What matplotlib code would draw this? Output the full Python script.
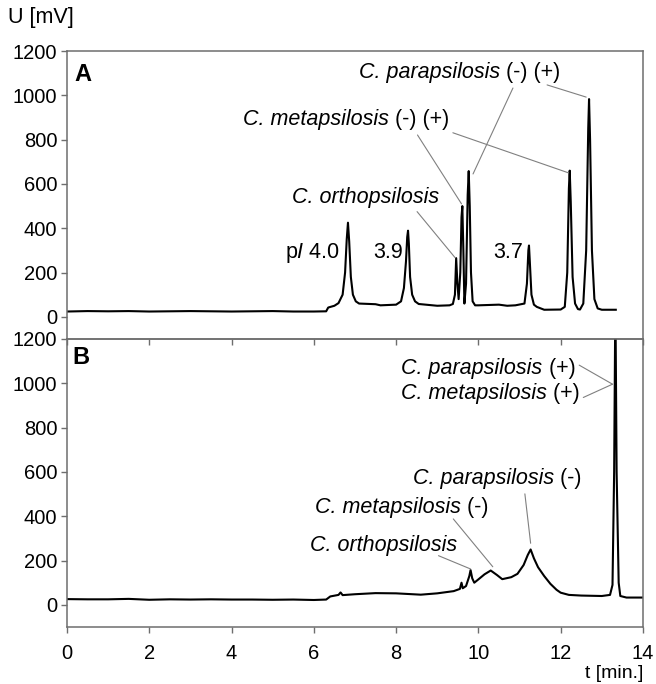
import matplotlib
matplotlib.use('Agg')
import matplotlib.pyplot as plt


# DATA

# panel A: isoelectric focusing trace
t_a = [0.0, 0.5, 1.0, 1.5, 2.0, 2.5, 3.0, 3.5, 4.0, 4.5, 5.0, 5.5, 6.0, 6.3,
       6.35, 6.5, 6.6, 6.70, 6.76, 6.80, 6.83, 6.86, 6.90, 6.95, 7.02, 7.1,
       7.5, 7.62, 8.0, 8.12, 8.19, 8.24, 8.27, 8.29, 8.31, 8.34, 8.39, 8.46,
       8.55, 9.0, 9.3, 9.38, 9.43, 9.46, 9.49, 9.52, 9.56, 9.59, 9.61, 9.635,
       9.66, 9.70, 9.74, 9.765, 9.79, 9.82, 9.86, 9.92, 10.0, 10.5, 10.7, 10.9,
       11.12, 11.18, 11.215, 11.23, 11.25, 11.29, 11.35, 11.42, 11.6, 12.0,
       12.1, 12.16, 12.20, 12.22, 12.245, 12.29, 12.35, 12.42, 12.47, 12.55,
       12.62, 12.67, 12.69, 12.715, 12.76, 12.82, 12.9, 13.0, 13.34]
u_a = [24, 26, 25, 26, 24, 25, 26, 25, 24, 25, 26, 24, 24, 25,
       42, 50, 62, 100, 200, 350, 425, 340, 180, 100, 70, 60,
       57, 52, 55, 70, 130, 250, 360, 389, 330, 180, 100, 70,
       58, 50, 52, 58, 100, 265, 150, 80, 200, 450, 500, 300,
       60, 150, 550, 658, 500, 200, 70, 52, 52, 55, 50, 52,
       60, 150, 300, 322, 250, 100, 55, 45, 32, 33,
       45, 200, 580, 660, 520, 180, 60, 35, 33, 60,
       300, 850, 983, 800, 300, 80, 38, 32, 32]

# panel B: second run
t_b = [0.0, 0.5, 1.0, 1.5, 2.0, 2.5, 3.0, 3.5, 4.0, 4.5, 5.0, 5.5, 6.0, 6.3,
       6.4, 6.6, 6.65, 6.7, 7.0, 7.5, 8.0, 8.6, 9.0, 9.4, 9.55, 9.59, 9.62,
       9.7, 9.78, 9.81, 9.85, 9.9, 10.0, 10.15, 10.3, 10.45, 10.58, 10.8,
       10.95, 11.1, 11.2, 11.27, 11.35, 11.45, 11.6, 11.75, 11.9, 12.0, 12.2,
       12.5, 13.0, 13.2, 13.26, 13.3, 13.33, 13.36, 13.41, 13.45, 13.6, 14.0]
u_b = [26, 25, 25, 27, 23, 25, 24, 25, 24, 24, 23, 24, 22, 24,
       38, 45, 56, 44, 48, 53, 52, 46, 52, 62, 72, 100, 75,
       85, 130, 157, 120, 100, 115, 138, 155, 135, 116, 125,
       140, 180, 225, 250, 210, 170, 130, 95, 68, 55, 45,
       42, 40, 45, 90, 600, 1400, 600, 100, 40, 33, 33]

y_ticks = [0, 200, 400, 600, 800, 1000, 1200]
x_ticks = [0, 2, 4, 6, 8, 10, 12, 14]


### = = = = = = = = = = = = = = = = = = = = = = = = = = = = = = = = = = = = = =


# STYLE

plt.rcParams['font.family'] = 'Liberation Sans'
plt.rcParams['mathtext.fontset'] = 'custom'
plt.rcParams['mathtext.rm'] = 'Liberation Sans'
plt.rcParams['mathtext.it'] = 'Liberation Sans:italic'
plt.rcParams['font.size'] = 15.5
plt.rcParams['xtick.labelsize'] = 14.5
plt.rcParams['ytick.labelsize'] = 14.5

frame = '#6e6e6e'
lead = '#808080'

fig = plt.figure(figsize=(6.56, 6.84), dpi=100)
ax1 = fig.add_axes([0.1021, 0.5044, 0.8780, 0.4210])
ax2 = fig.add_axes([0.1021, 0.0833, 0.8780, 0.4211])
ax2.set_facecolor('none')

for a in (ax1, ax2):
    a.set_xlim(0, 14)
    a.set_ylim(-100, 1200)
    a.set_yticks(y_ticks)
    a.set_xticks(x_ticks)
    for s in a.spines.values():
        s.set_color(frame)
        s.set_linewidth(1.1)
    a.tick_params(direction='out', length=4, width=1, color=frame, pad=3)

ax1.tick_params(axis='x', labelbottom=False)
ax2.tick_params(axis='x', pad=8)

ax1.plot(t_a, u_a, color='black', lw=1.5, solid_joinstyle='round')
ax2.plot(t_b, u_b, color='black', lw=1.5, solid_joinstyle='round')


def lead_line(a, x0, y0, x1, y1):
    a.annotate('', xy=(x1, y1), xytext=(x0, y0),
               arrowprops=dict(arrowstyle='-', color=lead, lw=0.8, shrinkA=0, shrinkB=0))


def label(a, x, y, name, extra=''):
    # italic species name followed by plain charge tags
    t = a.text(x, y, 'C. ' + name, style='italic', ha='left', va='center')
    if extra:
        a.annotate(extra, xy=(1, 0), xycoords=t, ha='left', va='bottom')


# panel A labels
ax1.text(0.19, 1096, 'A', fontsize=17, fontweight='bold', va='center', ha='left')
ax1.text(6.64, 289, r'p$\mathit{I}$ 4.0', ha='right', va='center')
ax1.text(8.17, 289, '3.9', ha='right', va='center')
ax1.text(11.08, 289, '3.7', ha='right', va='center')
label(ax1, 7.10, 1105, 'parapsilosis', ' (-) (+)')
label(ax1, 4.28, 889, 'metapsilosis', ' (-) (+)')
label(ax1, 5.46, 537, 'orthopsilosis')

lead_line(ax1, 10.84, 1033, 9.87, 645)
lead_line(ax1, 11.67, 1047, 12.62, 992)
lead_line(ax1, 8.52, 821, 9.59, 510)
lead_line(ax1, 9.38, 831, 12.19, 650)
lead_line(ax1, 8.51, 475, 9.43, 268)

# panel B labels
ax2.text(0.14, 1118, 'B', fontsize=17, fontweight='bold', va='center', ha='left')
label(ax2, 8.13, 1069, 'parapsilosis', ' (+)')
label(ax2, 8.13, 955, 'metapsilosis', ' (+)')
label(ax2, 8.41, 571, 'parapsilosis', ' (-)')
label(ax2, 6.03, 441, 'metapsilosis', ' (-)')
label(ax2, 5.91, 267, 'orthopsilosis')

lead_line(ax2, 12.45, 1082, 13.26, 996)
lead_line(ax2, 12.55, 936, 13.26, 996)
lead_line(ax2, 11.13, 501, 11.27, 278)
lead_line(ax2, 9.39, 388, 10.35, 172)
lead_line(ax2, 9.03, 222, 9.81, 162)

fig.text(8 / 656, 1 - 18 / 684, 'U [mV]', ha='left', va='center')
fig.text(643 / 656, 1 - 674 / 684, 't [min.]', ha='right', va='center', fontsize=14)

fig.savefig('out.png', dpi=100)
